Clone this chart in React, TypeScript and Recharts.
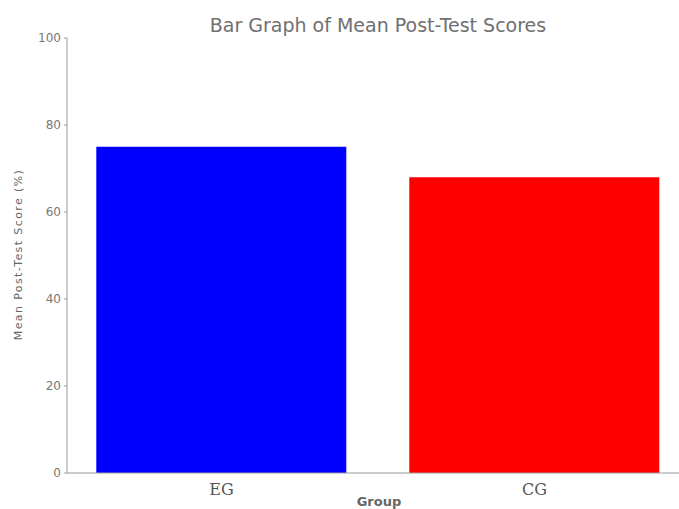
import { Bar, BarChart, Cell, XAxis, YAxis } from "recharts";

const groups = ["EG", "CG"];
const meanScores = [75, 68];
const yTicks = [0, 20, 40, 60, 80, 100];
const barColors = ["#0000ff", "#ff0000"];

const data = groups.map((group, i) => ({ group, score: meanScores[i] }));

const AXIS = "#9a9a9a";

export default function App() {
  return (
    <div
      style={{
        position: "fixed",
        left: 0,
        top: 0,
        width: 679,
        height: 509,
        overflow: "hidden",
        background: "#fff",
      }}
    >
      <div
        style={{
          position: "absolute",
          left: 8,
          top: 14,
          width: 740,
          textAlign: "center",
          fontFamily: "DejaVu Sans",
          fontSize: 19,
          color: "#707070",
        }}
      >
        Bar Graph of Mean Post-Test Scores
      </div>
      <div style={{ position: "absolute", left: 8, top: 8 }}>
        <BarChart
          width={700}
          height={501}
          data={data}
          margin={{ top: 30, right: 15, left: 0, bottom: 0 }}
          barCategoryGap="10%"
        >
          <XAxis
            dataKey="group"
            height={36}
            stroke={AXIS}
            tickLine={false}
            tickMargin={5}
            padding={{ left: -2, right: 2 }}
            tick={{ fill: "#555", fontSize: 16, fontFamily: "DejaVu Serif" }}
            label={{
              content: ({ viewBox }: any) => (
                <text
                  x={viewBox.x + viewBox.width / 2 - 1}
                  y={viewBox.y + 33}
                  textAnchor="middle"
                  fill="#666"
                  fontSize={13}
                  fontWeight="bold"
                  fontFamily="DejaVu Sans"
                >
                  Group
                </text>
              ),
            }}
          />
          <YAxis
            width={59}
            domain={[0, 100]}
            ticks={yTicks}
            stroke={AXIS}
            tickSize={3}
            tickMargin={3}
            tick={{ fill: "#777", fontSize: 12, fontFamily: "DejaVu Sans" }}
            label={{
              content: ({ viewBox }: any) => {
                const x = viewBox.x + 14;
                const y = viewBox.y + viewBox.height / 2 - 1;
                return (
                  <text
                    x={x}
                    y={y}
                    transform={`rotate(-90, ${x}, ${y})`}
                    textAnchor="middle"
                    fill="#666"
                    fontSize={11}
                    letterSpacing={1.4}
                    fontFamily="DejaVu Sans"
                  >
                    Mean Post-Test Score (%)
                  </text>
                );
              },
            }}
          />
          <Bar dataKey="score" isAnimationActive={false}>
            {data.map((d, i) => (
              <Cell key={d.group} fill={barColors[i]} />
            ))}
          </Bar>
        </BarChart>
      </div>
    </div>
  );
}
